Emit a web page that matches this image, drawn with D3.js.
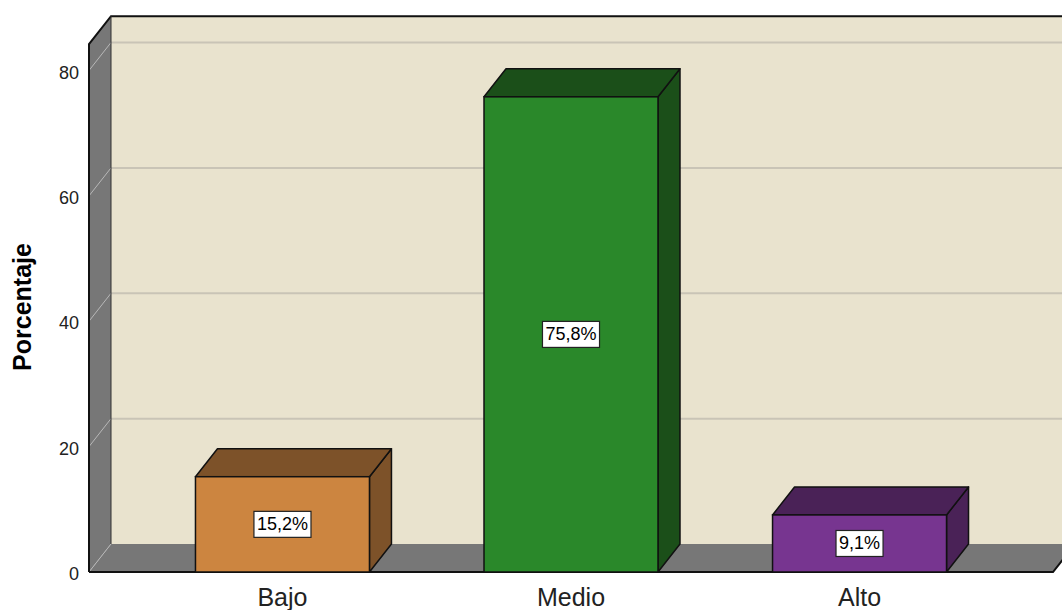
<!DOCTYPE html>
<html>
<head>
<meta charset="utf-8">
<script src="https://cdn.jsdelivr.net/npm/d3@7"></script>
<style>
  html, body { margin: 0; padding: 0; background: #fff; }
  svg { display: block; }
  text { font-family: "Liberation Sans", Arial, sans-serif; }
</style>
</head>
<body>
<svg id="chart" width="1062" height="610"></svg>
<script>
// ---- data ----
const categories = ["Bajo", "Medio", "Alto"];
const values = [15.2, 75.8, 9.1];
const valueLabels = ["15,2%", "75,8%", "9,1%"];
const yTicks = [0, 20, 40, 60, 80];
const yTitle = "Porcentaje";
const frontColors = ["#CC8540", "#2A882A", "#773590"];
const darkColors = ["#7D5229", "#1B4F19", "#4A2257"];

// ---- layout ----
const svg = d3.select("#chart");
const DX = 22, DY = 28;          // depth offset of the 3D box
const floorY = 572;
const leftX = 89, rightX = 1053;

const y = d3.scaleLinear().domain([0, 80]).range([floorY, 70.5]);
const x = d3.scaleBand().domain(categories).range([leftX, rightX])
  .paddingInner(0.397).paddingOuter(0.369);

const wallTop = y(84.2) - DY;    // top of back wall

// back wall
svg.append("rect")
  .attr("x", leftX + DX).attr("y", wallTop)
  .attr("width", 1100).attr("height", (floorY - DY) - wallTop)
  .attr("fill", "#E9E3CE");

// gridlines on back wall + diagonals on left wall
const grid = yTicks.filter(d => d > 0);
svg.selectAll("line.grid").data(grid).join("line")
  .attr("class", "grid")
  .attr("x1", leftX + DX).attr("x2", 1100)
  .attr("y1", d => y(d) - DY).attr("y2", d => y(d) - DY)
  .attr("stroke", "#C9C4B6").attr("stroke-width", 2);

// left wall
svg.append("polygon")
  .attr("points", [[leftX, y(84.2)], [leftX + DX, wallTop], [leftX + DX, floorY - DY], [leftX, floorY]].join(" "))
  .attr("fill", "#777777");

svg.selectAll("line.diag").data(grid).join("line")
  .attr("class", "diag")
  .attr("x1", leftX + DX).attr("y1", d => y(d) - DY)
  .attr("x2", leftX).attr("y2", d => y(d))
  .attr("stroke", "#B8B8B8").attr("stroke-width", 1);

// floor
svg.append("polygon")
  .attr("points", [[leftX, floorY], [leftX + DX, floorY - DY], [rightX + DX, floorY - DY], [rightX, floorY]].join(" "))
  .attr("fill", "#777777");
svg.append("line")
  .attr("x1", leftX).attr("y1", floorY).attr("x2", leftX + DX).attr("y2", floorY - DY)
  .attr("stroke", "#B8B8B8").attr("stroke-width", 1);

// outlines
svg.append("path")
  .attr("d", `M${leftX},${floorY} L${leftX},${y(84.2)} L${leftX + DX},${wallTop} L1100,${wallTop}`)
  .attr("fill", "none").attr("stroke", "#111").attr("stroke-width", 2);
svg.append("line")
  .attr("x1", leftX + DX).attr("y1", wallTop).attr("x2", leftX + DX).attr("y2", floorY - DY)
  .attr("stroke", "#333").attr("stroke-width", 1);
svg.append("path")
  .attr("d", `M${leftX},${floorY} L${rightX},${floorY} L${rightX + DX},${floorY - DY}`)
  .attr("fill", "none").attr("stroke", "#111").attr("stroke-width", 2);

// bars
const bw = x.bandwidth();
const bars = svg.selectAll("g.bar").data(values).join("g").attr("class", "bar");
bars.each(function (v, i) {
  const g = d3.select(this);
  const x0 = x(categories[i]), yt = y(v);
  g.append("polygon")
    .attr("points", [[x0 + bw, yt], [x0 + bw + DX, yt - DY], [x0 + bw + DX, floorY - DY], [x0 + bw, floorY]].join(" "))
    .attr("fill", darkColors[i]).attr("stroke", "#111").attr("stroke-width", 1.5).attr("stroke-linejoin", "round");
  g.append("polygon")
    .attr("points", [[x0, yt], [x0 + DX, yt - DY], [x0 + bw + DX, yt - DY], [x0 + bw, yt]].join(" "))
    .attr("fill", darkColors[i]).attr("stroke", "#111").attr("stroke-width", 1.5).attr("stroke-linejoin", "round");
  g.append("rect")
    .attr("x", x0).attr("y", yt).attr("width", bw).attr("height", floorY - yt)
    .attr("fill", frontColors[i]).attr("stroke", "#111").attr("stroke-width", 1.5);

  // value label box
  const cx = x0 + bw / 2, cy = (yt + floorY) / 2;
  const t = g.append("text")
    .attr("x", cx).attr("y", cy)
    .attr("text-anchor", "middle").attr("dominant-baseline", "central")
    .attr("font-size", 18).attr("fill", "#000")
    .text(valueLabels[i]);
  const bb = t.node().getBBox();
  g.insert("rect", "text")
    .attr("x", bb.x - 3).attr("y", cy - 13).attr("width", bb.width + 6).attr("height", 26)
    .attr("fill", "#fff").attr("stroke", "#222").attr("stroke-width", 1.2);
});

// y tick labels
svg.selectAll("text.ytick").data(yTicks).join("text")
  .attr("class", "ytick")
  .attr("x", 79).attr("y", d => y(d) + 2)
  .attr("text-anchor", "end").attr("dominant-baseline", "central")
  .attr("font-size", 18).attr("fill", "#222")
  .text(d => d);

// category labels
svg.selectAll("text.cat").data(categories).join("text")
  .attr("class", "cat")
  .attr("x", d => x(d) + bw / 2).attr("y", 606)
  .attr("text-anchor", "middle")
  .attr("font-size", 25).attr("fill", "#222")
  .text(d => d);

// y title
svg.append("text")
  .attr("transform", "translate(31,307) rotate(-90)")
  .attr("text-anchor", "middle")
  .attr("font-size", 25).attr("font-weight", "bold").attr("fill", "#000")
  .text(yTitle);
</script>
</body>
</html>
